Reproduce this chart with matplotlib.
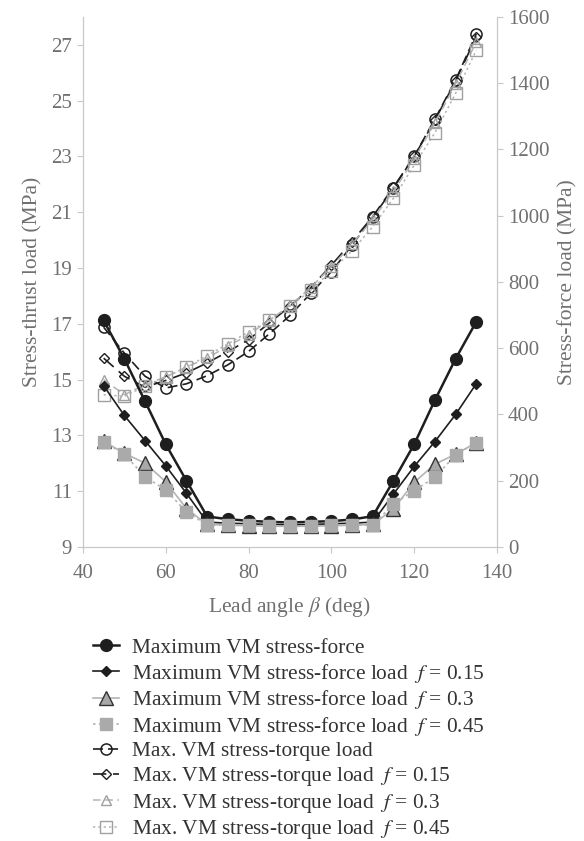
import matplotlib
matplotlib.use('Agg')
import matplotlib.pyplot as plt

plt.rcParams['font.family'] = ['Liberation Serif', 'DejaVu Serif']
plt.rcParams['mathtext.fontset'] = 'stix'

# lead angle (deg)
beta = [45, 50, 55, 60, 65, 70, 75, 80, 85, 90, 95, 100, 105, 110, 115, 120, 125, 130, 135]

# maximum VM stress under force load (MPa), right axis
force_f0 = [684, 568, 440, 310, 200, 92, 84, 79, 76, 74, 76, 78, 83, 93, 200, 310, 443, 568, 680]
force_f015 = [487, 397, 321, 245, 162, 75, 72, 70, 68, 67, 68, 70, 72, 75, 160, 243, 318, 400, 493]
force_f03 = [319, 283, 253, 197, 116, 68, 66, 64, 63, 62, 63, 64, 66, 68, 115, 195, 250, 280, 315]
force_f045 = [318, 280, 212, 172, 106, 66, 66, 65, 64, 63, 64, 65, 66, 66, 130, 170, 210, 278, 315]

# maximum VM stress under torque load (MPa), left axis
torque_f0 = [16.88, 15.95, 15.12, 14.70, 14.85, 15.14, 15.53, 16.01, 16.64, 17.30,
             18.09, 18.87, 19.82, 20.82, 21.86, 23.01, 24.34, 25.74, 27.39]
torque_f015 = [15.77, 15.12, 14.73, 14.97, 15.24, 15.60, 16.00, 16.43, 17.03, 17.63,
               18.30, 19.10, 19.95, 20.85, 21.90, 23.00, 24.30, 25.70, 27.30]
torque_f03 = [15.00, 14.46, 14.82, 15.10, 15.45, 15.77, 16.20, 16.61, 17.13, 17.66,
              18.30, 19.05, 19.85, 20.75, 21.75, 22.90, 24.20, 25.60, 27.10]
torque_f045 = [14.46, 14.40, 14.76, 15.09, 15.45, 15.86, 16.28, 16.71, 17.13, 17.63,
               18.20, 18.90, 19.62, 20.48, 21.50, 22.69, 23.85, 25.26, 26.81]

labels = ['Maximum VM stress-force',
          r'Maximum VM stress-force load $\ f$ = 0.15',
          r'Maximum VM stress-force load $\ f$ = 0.3',
          r'Maximum VM stress-force load $\ f$ = 0.45',
          'Max. VM stress-torque load',
          r'Max. VM stress-torque load $\ f$ = 0.15',
          r'Max. VM stress-torque load $\ f$ = 0.3',
          r'Max. VM stress-torque load $\ f$ = 0.45']

txt = '#707070'
spine = '#c8c8c8'
dark = '#1e1e1e'

fig = plt.figure(figsize=(5.84, 8.41), dpi=100)
ax = fig.add_axes([0.142, 0.3496, 0.709, 0.6302])
ax2 = ax.twinx()

h = []
h += ax.plot(beta, torque_f0, color=dark, lw=1.2, ls=(0, (6, 3)), marker='o', ms=8,
             mfc='none', mec=dark, mew=1.1, label=labels[4])
h += ax.plot(beta, torque_f015, color=dark, lw=1.2, ls=(0, (8, 4)), marker='D', ms=5,
             mfc='none', mec=dark, mew=1.0, label=labels[5])
h += ax.plot(beta, torque_f03, color='#b4b4b4', lw=1.1, ls=(0, (5, 3)), marker='^', ms=7,
             mfc='none', mec='#a0a0a0', mew=1.0, label=labels[6])
h += ax.plot(beta, torque_f045, color='#b4b4b4', lw=1.1, ls=(0, (1.5, 2)), marker='s', ms=8,
             mfc='none', mec='#a0a0a0', mew=1.0, label=labels[7])

f = []
f += ax2.plot(beta, force_f0, color=dark, lw=1.8, marker='o', ms=8.5,
              mfc=dark, mec=dark, label=labels[0])
f += ax2.plot(beta, force_f015, color=dark, lw=1.2, marker='D', ms=5,
              mfc=dark, mec=dark, label=labels[1])
f += ax2.plot(beta, force_f03, color='#b4b4b4', lw=1.2, marker='^', ms=10,
              mfc='#a8a8a8', mec='#333333', mew=1.0, label=labels[2])
f += ax2.plot(beta, force_f045, color='#b4b4b4', lw=1.2, ls=(0, (1.5, 2)), marker='s', ms=8,
              mfc='#aaaaaa', mec='#aaaaaa', label=labels[3])

ax.set_xlim(40, 140)
ax.set_ylim(9, 28)
ax2.set_ylim(0, 1600)
ax.set_xticks(range(40, 141, 20))
ax.set_yticks(range(9, 28, 2))
ax2.set_yticks(range(0, 1601, 200))

for a in (ax, ax2):
    for s in a.spines.values():
        s.set_color(spine)
    a.spines['top'].set_visible(False)
    a.tick_params(colors=spine, labelcolor=txt, labelsize=15, length=4, width=0.8, pad=4)
ax.tick_params(axis='x', pad=8)

ax.set_ylabel('Stress-thrust load (MPa)', color=txt, fontsize=15.5, labelpad=6)
ax2.set_ylabel('Stress-force load (MPa)', color=txt, fontsize=15.5, labelpad=6)
ax.set_xlabel(r'Lead angle $\beta$ (deg)', color=txt, fontsize=15.5, labelpad=9)

leg = fig.legend(handles=f + h, loc='upper left', bbox_to_anchor=(0.159, 1 - 638 / 841),
                 frameon=False, fontsize=15.4, handlelength=1.2, handletextpad=0.65,
                 labelspacing=0.17, borderpad=0, borderaxespad=0)
for t in leg.get_texts():
    t.set_color('#333333')

fig.savefig('out.png', dpi=100)
